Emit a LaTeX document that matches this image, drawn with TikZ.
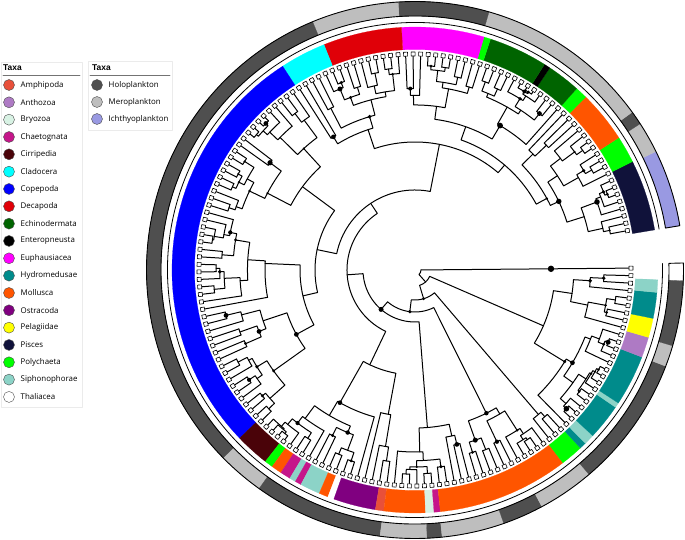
\documentclass[tikz,border=0pt]{standalone}
\usepackage{fontspec}
\setmainfont{Open Sans}
\newfontfamily\titlefont{Liberation Sans}
\definecolor{amph}{HTML}{E8503A}
\definecolor{anth}{HTML}{AE7AC4}
\definecolor{bryo}{HTML}{D8F2E4}
\definecolor{chae}{HTML}{C5168A}
\definecolor{cirr}{HTML}{4A0309}
\definecolor{clad}{HTML}{00FFFF}
\definecolor{cope}{HTML}{0000FF}
\definecolor{deca}{HTML}{E00008}
\definecolor{echi}{HTML}{006400}
\definecolor{ente}{HTML}{000000}
\definecolor{euph}{HTML}{FF00FF}
\definecolor{hydr}{HTML}{008B8B}
\definecolor{moll}{HTML}{FF5500}
\definecolor{ostr}{HTML}{800080}
\definecolor{pela}{HTML}{FFFF00}
\definecolor{pisc}{HTML}{10123A}
\definecolor{poly}{HTML}{00FF00}
\definecolor{siph}{HTML}{8CD3C7}
\definecolor{thal}{HTML}{FFFFFF}
\definecolor{holo}{HTML}{4F4F4F}
\definecolor{mero}{HTML}{BEBEBE}
\definecolor{ichy}{HTML}{9999E2}
\def\astart{9.5}
\def\astep{2}
\def\rtip{214}
\def\rbox{216}
\newcommand\join[5]{\draw[branch] (#2:#3) -- (#2:#1) arc[start angle=#2,end angle=#4,radius=#1] -- (#4:#5);}
\newcommand\clade[3]{%
  \begingroup
  \pgfmathsetmacro\cc{\astart+\astep*(#1+#2/2)}%
  \ifnum#2=1\relax
    \draw[branch] (\cc:#3) -- (\cc:\rtip);
    \node[tipbox,rotate=\cc] (tip#1) at (\cc:\rbox) {};
  \else
    \pgfmathtruncatemacro\nA{1+floor(rnd*(#2-1))}%
    \pgfmathtruncatemacro\nB{#2-\nA}%
    \pgfmathtruncatemacro\fB{#1+\nA}%
    \pgfmathsetmacro\cA{\astart+\astep*(#1+\nA/2)}%
    \pgfmathsetmacro\cB{\astart+\astep*(\fB+\nB/2)}%
    \pgfmathsetmacro\rA{\nA==1 ? #3 : #3+(\rtip-#3)*(0.12+0.38*rnd)}%
    \pgfmathsetmacro\rB{\nB==1 ? #3 : #3+(\rtip-#3)*(0.12+0.38*rnd)}%
    \draw[branch] (\cA:\rA) -- (\cA:#3) arc[start angle=\cA,end angle=\cB,radius=#3] -- (\cB:\rB);
    \pgfmathtruncatemacro\hasdot{rnd<0.4}%
    \ifnum\hasdot=1\relax
      \pgfmathsetmacro\dr{1.1+1.8*rnd}%
      \fill (\cc:#3) circle[radius=\dr];
    \fi
    \edef\next{\noexpand\clade{#1}{\nA}{\rA}\noexpand\clade{\fB}{\nB}{\rB}}\next
  \fi
  \endgroup}
\begin{document}
\begin{tikzpicture}[x=1pt,y=1pt,line join=round,line cap=round,
  branch/.style={line width=1pt},
  tipbox/.style={draw,fill=white,line width=0.6pt,minimum size=4pt,inner sep=0pt},
  legbox/.style={draw=black!8,line width=0.6pt},
  legrule/.style={draw=black!55,line width=0.7pt},
  legdot/.style={circle,draw=black!70,line width=0.4pt,minimum size=11pt,inner sep=0pt},
  legtext/.style={anchor=west,inner sep=0pt,font=\fontsize{7.9}{9}\selectfont},
  legtitle/.style={anchor=west,inner sep=0pt,font=\titlefont\bfseries\fontsize{8.4}{9}\selectfont}]
\useasboundingbox (-415,-270) rectangle (270,270);
\pgfmathsetseed{11}
% taxa ring
\foreach \a/\b/\c in {9.5/26.5/pisc,26.5/33/poly,33/45.4/moll,45.4/48.3/poly,48.3/56.3/echi,
  56.3/57.8/ente,57.8/71.9/echi,71.9/73.5/poly,73.5/93.2/euph,93.2/112/deca,112/123/clad,
  123/223.8/cope,223.8/232/cirr,232/234/poly,234/236.5/moll,236.5/239/chae,239/240.5/siph,
  240.5/242/chae,242/246.8/siph,246.8/249/moll,249/250.5/thal,250.5/260.6/ostr,260.6/262.6/amph,
  262.6/272.5/moll,272.5/274.5/bryo,274.5/276/chae,276/307.5/moll,307.5/312.9/poly,
  312.9/314.5/hydr,314.5/317/siph,317/325.6/hydr,325.6/326.8/siph,326.8/339/hydr,
  339/343.9/anth,343.9/348.5/pela,348.5/354.7/hydr,354.7/357.8/siph,357.8/361.5/thal}
  \fill[\c,draw=\c,line width=0.2pt] (\a:220.5) arc[start angle=\a,end angle=\b,radius=220.5]
    -- (\b:243) arc[start angle=\b,end angle=\a,radius=243] -- cycle;
\draw[line width=0.8pt] (9.5:247.5) arc[start angle=9.5,end angle=361.5,radius=247.5];
% plankton ring
\foreach \a/\b/\c in {9.5/26.2/ichy,26.2/33/mero,33/36/holo,36/74/mero,74/93.6/holo,
  93.6/112.4/mero,112.4/224.5/holo,224.5/234.5/mero,234.5/262.5/holo,262.5/272.6/mero,
  272.6/275.8/holo,275.8/289.3/mero,289.3/298.2/holo,298.2/310.4/mero,310.4/339/holo,
  339/343.6/mero,343.6/357.7/holo}
  \fill[\c,draw=\c,line width=0.2pt] (\a:254) arc[start angle=\a,end angle=\b,radius=254]
    -- (\b:268.5) arc[start angle=\b,end angle=\a,radius=268.5] -- cycle;
\draw[line width=0.9pt] (9.5:254) arc[start angle=9.5,end angle=361.5,radius=254]
  -- (361.5:268.5) arc[start angle=361.5,end angle=9.5,radius=268.5] -- cycle;
% tree
\join{6}{360.5}{6}{311.6}{16}
\join{16}{336.5}{140}{286.7}{30}
\join{30}{310.5}{190}{262.89}{42}
\join{42}{296.5}{160}{229.28}{52}
\join{52}{274.5}{158}{184.06}{68}
\join{68}{244.5}{105}{123.625}{80}
\join{80}{168.25}{100}{79}{128}
\join{100}{143.5}{140}{193}{115}
\join{115}{177.5}{150}{208.5}{135}
\join{128}{108.5}{148}{49.5}{138}
\join{138}{28.5}{150}{70.5}{152}
\clade{175}{1}{6}
\clade{152}{23}{140}
\clade{149}{3}{190}
\clade{138}{11}{160}
\clade{127}{11}{158}
\clade{108}{19}{105}
\clade{91}{17}{135}
\clade{77}{14}{150}
\clade{57}{20}{140}
\clade{42}{15}{148}
\clade{19}{23}{152}
\clade{0}{19}{150}
\fill (360.5:136) circle[radius=3.2];
\fill (286.7:30) circle[radius=1.6];
\fill (262.89:42) circle[radius=1.8];
\fill (229.28:52) circle[radius=2.5];
% legends
\draw[legbox,fill=white] (-414,208) rectangle (-333,-137);
\node[legtitle] (taxaA) at (-412,202.5) {Taxa};
\draw[legrule] (-412,195) -- (-335,195);
\foreach \lab/\col [count=\i from 0] in {Amphipoda/amph,Anthozoa/anth,Bryozoa/bryo,
  Chaetognata/chae,Cirripedia/cirr,Cladocera/clad,Copepoda/cope,Decapoda/deca,
  Echinodermata/echi,Enteropneusta/ente,Euphausiacea/euph,Hydromedusae/hydr,
  Mollusca/moll,Ostracoda/ostr,Pelagiidae/pela,Pisces/pisc,Polychaeta/poly,
  Siphonophorae/siph,Thaliacea/thal}{
  \pgfmathsetmacro\yy{185-17.33*\i}
  \node[legdot,fill=\col] (dotA\i) at (-406,\yy) {};
  \node[legtext] (labA\i) at (-394.5,\yy) {\lab};
}
\draw[legbox,fill=white] (-327,209) rectangle (-243,140);
\node[legtitle] (taxaB) at (-323,202.5) {Taxa};
\draw[legrule] (-325,195) -- (-245,195);
\foreach \lab/\col [count=\i from 0] in {Holoplankton/holo,Meroplankton/mero,Ichthyoplankton/ichy}{
  \pgfmathsetmacro\yy{185-17*\i}
  \node[legdot,fill=\col] (dotB\i) at (-318,\yy) {};
  \node[legtext] (labB\i) at (-306.5,\yy) {\lab};
}
\end{tikzpicture}
\end{document}
